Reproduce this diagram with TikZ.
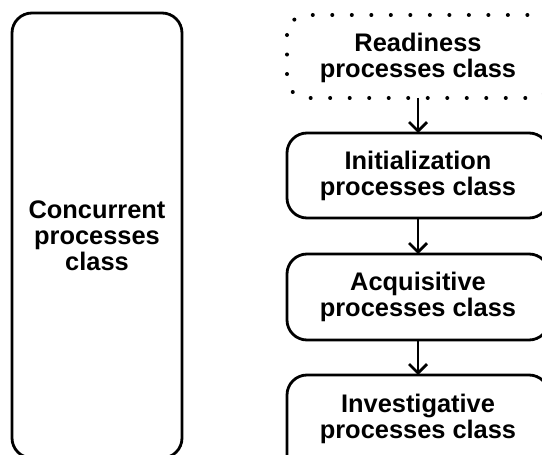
\documentclass[tikz,border=0pt]{standalone}
\usepackage{fontspec}
\setmainfont{Liberation Sans}
\usetikzlibrary{arrows.meta}
\tikzset{
  procbox/.style={draw=black, line width=2.8bp, rounded corners=20bp},
  readybox/.style={draw=black, line width=4bp, line cap=round, rounded corners=20bp, dash pattern=on 0.01bp off 19.5bp},
  lbl/.style={font=\fontsize{25.5}{26}\selectfont\bfseries, align=center, inner sep=0pt},
  flow/.style={draw=black, line width=2.8bp, -{Straight Barb[length=9bp,width=18bp]}}
}
\begin{document}
\begin{tikzpicture}[x=1bp,y=-1bp]
\useasboundingbox (0,0) rectangle (542,455);
\clip (0,0) rectangle (542,455);
% left box
\draw[procbox] (12,13) rectangle (182,458);
\node[lbl] (conc) at (97,236) {Concurrent\\processes\\class};
% right column boxes
\draw[readybox] (287,15) rectangle (552,98);
\coordinate (rdyB) at (418,98);
\node[lbl] (rdy) at (418,58) {Readiness\\processes class};
\draw[procbox] (287,133) rectangle (549,218);
\coordinate (iniT) at (418,133);
\coordinate (iniB) at (418,218);
\node[lbl] (ini) at (418,176) {Initialization\\processes class};
\draw[procbox] (287,254) rectangle (549,340);
\coordinate (acqT) at (418,254);
\coordinate (acqB) at (418,340);
\node[lbl] (acq) at (418,297) {Acquisitive\\processes class};
\draw[procbox] (287,375) rectangle (549,475);
\coordinate (invT) at (418,375);
\node[lbl] (inv) at (418,419) {Investigative\\processes class};
% arrows
\draw[flow] (rdyB) -- (iniT);
\draw[flow] (iniB) -- (acqT);
\draw[flow] (acqB) -- (invT);
\end{tikzpicture}
\end{document}
